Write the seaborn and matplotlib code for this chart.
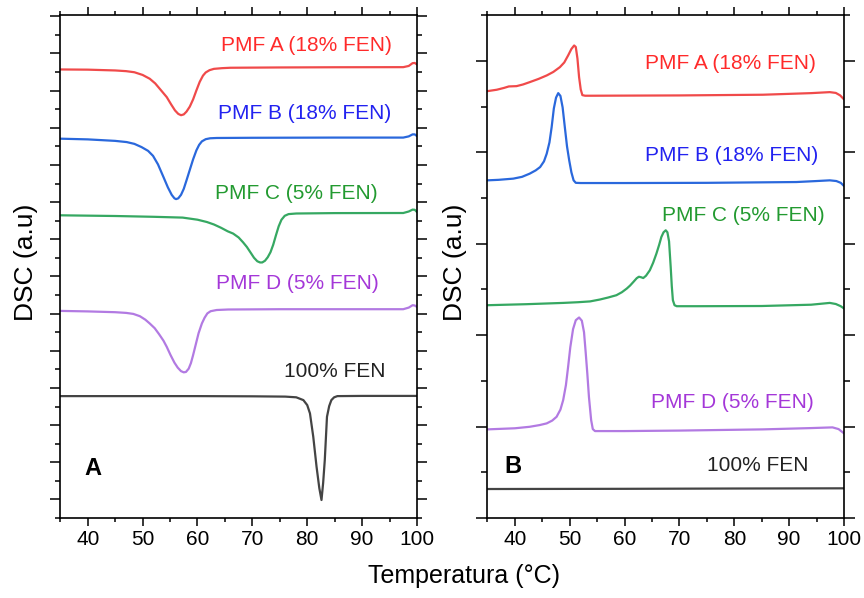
import numpy as np
import pandas as pd
import matplotlib
matplotlib.use("Agg")
import matplotlib.pyplot as plt
import seaborn as sns
from matplotlib.ticker import MultipleLocator, FixedLocator

sns.set_theme(style="ticks")
plt.rcParams['font.family'] = ['Liberation Sans', 'DejaVu Sans']
plt.rcParams['text.color'] = 'black'
plt.rcParams['xtick.color'] = 'black'
plt.rcParams['ytick.color'] = 'black'

# ---------------- Panel A (melting, endotherms downward) ----------------
A_red_T = [35, 40, 45, 47, 48.5, 50, 51.3, 52.3, 53.3, 54.4, 55.2, 55.9, 56.5, 57, 57.5, 58, 58.6, 59.2, 59.8, 60.4, 61, 61.5, 62.2, 63, 64.5, 66, 75, 85, 97.5, 98.5, 99.2, 99.6, 100]
A_red_y = [449, 448.8, 448, 447.3, 446.2, 443.5, 439.7, 435, 428.5, 421.3, 414, 408, 404.5, 403.2, 404, 406.8, 411.8, 419, 428, 436.5, 442.8, 446, 448.3, 449.6, 450.3, 450.7, 451, 451.2, 451.3, 452.5, 455.3, 455.5, 454]

A_blue_T = [35, 40, 45, 47.1, 48.5, 49.8, 51, 51.9, 52.8, 53.8, 54.6, 55.3, 55.8, 56.1, 56.5, 57, 57.5, 58, 58.6, 59.2, 59.8, 60.3, 60.8, 61.5, 62.3, 63.5, 70, 85, 97.5, 98.5, 99.2, 99.6, 100]
A_blue_y = [379.7, 379, 377.5, 376.3, 374.5, 371.3, 367.5, 362.5, 354, 341.3, 331, 323.5, 320, 319.2, 320, 323.5, 329.5, 338, 348.5, 359, 368, 373.5, 377, 379.2, 380.1, 380.4, 380.6, 380.8, 380.8, 382, 384, 384, 382.3]

A_green_T = [35, 45, 52, 57.3, 60, 61.7, 63, 64.3, 65.5, 66.5, 67.5, 68.3, 69, 69.7, 70.3, 70.9, 71.4, 71.8, 72.3, 72.8, 73.3, 73.8, 74.3, 74.8, 75.3, 75.9, 76.6, 78, 85, 97.5, 98.5, 99.2, 99.6, 100]
A_green_y = [303, 302.3, 301.5, 300.7, 298.6, 296.3, 293.8, 290.5, 287, 284.7, 280.8, 276, 271.3, 265.5, 260.5, 257, 255.8, 255.8, 257.5, 261, 266, 273.5, 283, 292, 298.5, 302.5, 304.2, 304.8, 305.2, 305.3, 306.8, 308.7, 308.5, 306.3]

A_purple_T = [35, 40, 45, 47, 48.3, 49.5, 50.5, 51.3, 52.2, 53, 53.8, 54.4, 55.1, 55.8, 56.4, 57, 57.5, 57.9, 58.4, 58.8, 59.2, 59.7, 60.2, 60.8, 61.3, 61.8, 62.4, 63.5, 65.6, 75, 90, 97.5, 98.5, 99.2, 99.6, 100]
A_purple_y = [207.3, 206.8, 206, 205.3, 204.3, 202, 198.5, 194.7, 190, 184, 177.5, 171.3, 163, 155.5, 150.5, 147, 145.8, 146.2, 149.5, 155, 163, 174, 185, 194.7, 200.5, 204.8, 207, 208.2, 208.7, 209, 209, 209, 210.6, 213, 212.7, 211.3]

A_black_T = [35, 50, 60, 70, 76, 78, 79.3, 80, 80.5, 81.1, 81.7, 82.2, 82.6, 82.9, 83.2, 83.6, 84, 84.4, 84.9, 85.5, 90, 100]
A_black_y = [122, 122, 122, 121.8, 121.5, 120.8, 118, 113, 104.7, 81.3, 51.3, 30, 18, 35, 58, 101.3, 112, 118, 120.8, 122, 122.2, 122.2]

# ---------------- Panel B (crystallisation, exotherms upward) ----------------
B_red_T = [35, 36.7, 38, 38.9, 40.3, 41.5, 42.7, 44.3, 45.8, 47, 48.2, 49, 49.7, 50.3, 50.8, 51.1, 51.4, 51.7, 52, 52.3, 52.8, 54, 70, 85.2, 94, 97.4, 98.5, 99.3, 100]
B_red_y = [427.3, 428.7, 430.5, 432, 432.3, 434, 436.3, 439.5, 443, 446.5, 451.3, 456, 463, 469.5, 473, 471.5, 460, 441.3, 429, 423.3, 422.7, 422.7, 423, 423.7, 425.3, 426.3, 425.5, 423, 419]

B_blue_T = [35, 37, 39.7, 41.3, 42.7, 43.8, 44.6, 45.3, 45.8, 46.3, 46.7, 47.1, 47.5, 47.9, 48.3, 48.7, 49.1, 49.5, 49.9, 50.3, 50.7, 51.1, 52, 60, 75, 91.3, 95, 97.4, 98.6, 99.4, 100]
B_blue_y = [338, 338.5, 339.7, 341.5, 344.7, 348, 351.3, 357, 364.7, 376, 391.3, 410, 420.8, 425.3, 422.5, 411, 391.3, 372, 358, 346, 338, 335.5, 335.3, 335.3, 335.5, 336.3, 337.3, 338, 337.3, 335.5, 332.3]

B_green_T = [35, 42, 48.8, 51.5, 53.7, 55.5, 57, 58.5, 59.5, 60.4, 61, 61.6, 62.2, 62.6, 63, 63.4, 63.9, 64.6, 65.2, 65.8, 66.3, 66.7, 67.1, 67.5, 67.8, 68.1, 68.4, 68.6, 68.8, 69.1, 69.5, 73.3, 85, 94, 97.4, 98.5, 99.4, 100]
B_green_y = [213, 214, 215.3, 216, 216.8, 218.7, 220.7, 223, 226, 229.7, 232.7, 236.3, 240, 241.5, 241, 240.2, 242.5, 248, 255.5, 264.7, 273.5, 281.3, 286, 288, 286, 277, 251.3, 232, 218, 213, 212, 212, 212.2, 213.5, 215.3, 214.2, 212, 209.7]

B_purple_T = [35, 40, 42.7, 44.5, 45.8, 46.8, 47.6, 48.3, 48.8, 49.3, 49.7, 50.1, 50.6, 51.1, 51.7, 52.2, 52.6, 52.9, 53.2, 53.5, 53.9, 54.2, 54.6, 60, 70, 85.2, 94, 97.9, 99, 100]
B_purple_y = [88.7, 89.8, 91.3, 93, 94.7, 97.5, 101.3, 108.5, 118, 133, 151.3, 171, 189, 198, 200.7, 197.5, 186, 166, 144.7, 121, 98, 89, 87, 87, 87.5, 88.7, 90, 90.7, 89, 84.7]

B_black_T = [35, 60, 80, 100]
B_black_y = [29, 29.2, 29.5, 29.7]

# ---------------- Labels ----------------
series_names = ["PMF A (18% FEN)", "PMF B (18% FEN)", "PMF C (5% FEN)", "PMF D (5% FEN)", "100% FEN"]
line_colors = ["#f04a4a", "#2a68dc", "#36a862", "#b27ae2", "#444444"]
text_colors = ["#ff2a2a", "#2222f0", "#229a30", "#a437d8", "#222222"]

A_label_T = [79.8, 79.6, 78.1, 78.2, 85.0]
A_label_y = [473, 404.7, 324.7, 234.7, 147]
B_label_T = [79.2, 79.5, 81.6, 79.7, 84.3]
B_label_y = [454.7, 363, 303, 115.3, 52.3]

panel_letters = ["A", "B"]
letter_T = [41.0, 39.6]
letter_y = [50, 52]

xticks_major = [40, 50, 60, 70, 80, 90, 100]


def make_df(Ts, Ys):
    frames = []
    for name, t, y in zip(series_names, Ts, Ys):
        frames.append(pd.DataFrame({"T": t, "v": y, "curve": name}))
    return pd.concat(frames, ignore_index=True)


dfA = make_df([A_red_T, A_blue_T, A_green_T, A_purple_T, A_black_T],
              [A_red_y, A_blue_y, A_green_y, A_purple_y, A_black_y])
dfB = make_df([B_red_T, B_blue_T, B_green_T, B_purple_T, B_black_T],
              [B_red_y, B_blue_y, B_green_y, B_purple_y, B_black_y])

fig = plt.figure(figsize=(8.64, 5.98), dpi=100)
ax1 = fig.add_axes([0.0698, 0.1338, 0.4128, 0.8411])
ax2 = fig.add_axes([0.5642, 0.1338, 0.4127, 0.8411])

palette = dict(zip(series_names, line_colors))

for ax, df, lt, ly, lett, lx, lyy in [
    (ax1, dfA, A_label_T, A_label_y, panel_letters[0], letter_T[0], letter_y[0]),
    (ax2, dfB, B_label_T, B_label_y, panel_letters[1], letter_T[1], letter_y[1]),
]:
    sns.lineplot(data=df, x="T", y="v", hue="curve", palette=palette, ax=ax,
                 legend=False, estimator=None, sort=False, linewidth=1.6)
    for line in ax.lines:
        line.set_solid_joinstyle("round")
    for name, c, tx, ty in zip(series_names, text_colors, lt, ly):
        ax.text(tx, ty, name, color=c, fontsize=15, ha="center", va="center")
    ax.text(lx, lyy, lett, fontsize=17, fontweight="bold", ha="center", va="center", color="black")
    ax.set_xlim(35, 100)
    ax.set_ylim(0, 503.5)
    ax.set_xlabel("")
    ax.set_ylabel("")
    ax.xaxis.set_major_locator(FixedLocator(xticks_major))
    ax.xaxis.set_minor_locator(MultipleLocator(5))
    ax.tick_params(axis="x", which="both", top=True, bottom=True, direction="out",
                   labelsize=15, colors="black", pad=3)
    ax.tick_params(axis="x", which="major", length=5.5, width=1.1)
    ax.tick_params(axis="x", which="minor", length=2.8, width=1.1)
    ax.tick_params(axis="y", which="both", left=True, right=True, direction="out",
                   labelleft=False, colors="black")
    for s in ax.spines.values():
        s.set_visible(True)
        s.set_linewidth(1.2)
        s.set_color("black")

ax1.yaxis.set_major_locator(FixedLocator(list(np.arange(18.6, 504, 37.2))))
ax1.yaxis.set_minor_locator(FixedLocator(list(np.arange(0, 504, 37.2))))
ax1.tick_params(axis="y", which="major", length=7.2, width=1.1)
ax1.tick_params(axis="y", which="minor", length=3.6, width=1.1)

ax2.yaxis.set_major_locator(FixedLocator(list(np.arange(0, 504, 91.5))))
ax2.yaxis.set_minor_locator(FixedLocator(list(np.arange(45.75, 504, 91.5))))
ax2.tick_params(axis="y", which="major", length=7.7, width=1.1)
ax2.tick_params(axis="y", which="minor", length=4.0, width=1.1)

fig.text(26 / 864, 1 - 262 / 598, "DSC (a.u)", rotation=90, ha="center", va="center", fontsize=19, color="black")
fig.text(455 / 864, 1 - 262 / 598, "DSC (a.u)", rotation=90, ha="center", va="center", fontsize=19, color="black")
fig.text(464 / 864, 1 - 576 / 598, "Temperatura (°C)", ha="center", va="center", fontsize=18, color="black")

fig.savefig("out.png", dpi=100)
